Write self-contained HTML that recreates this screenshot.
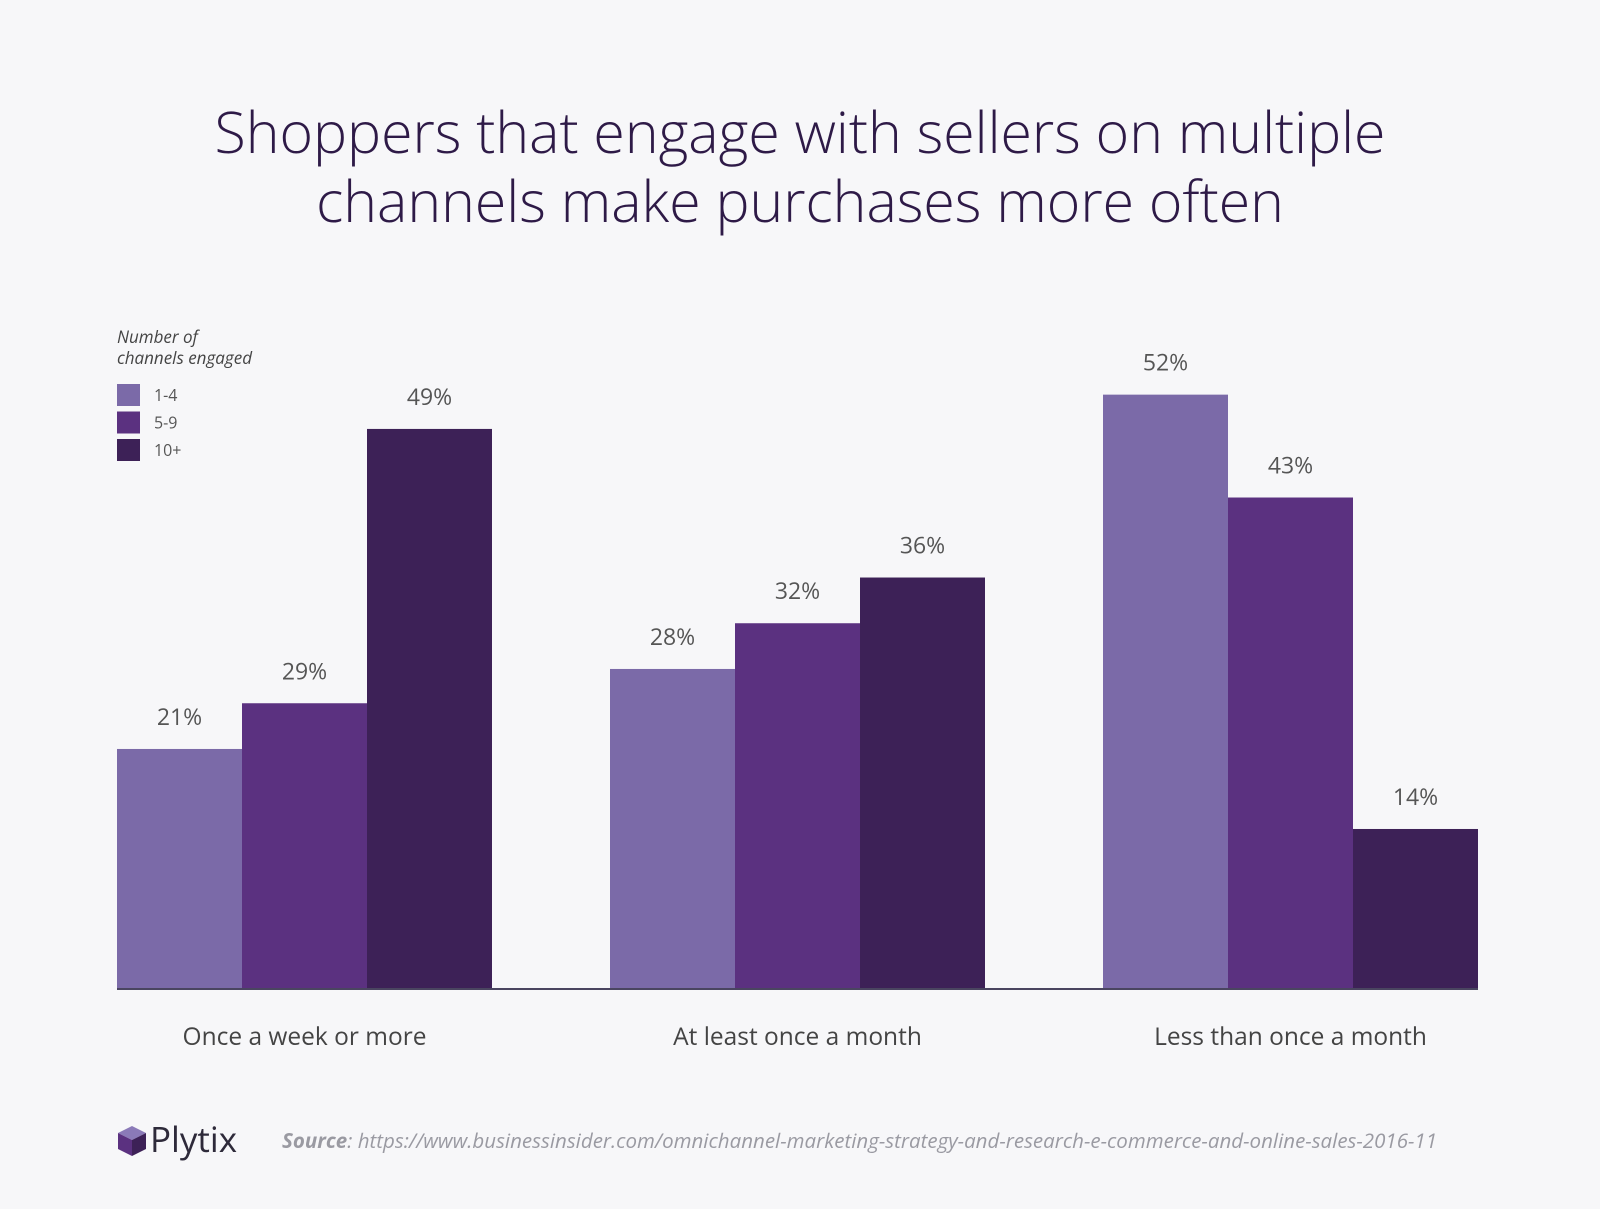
<!DOCTYPE html>
<html><head><meta charset="utf-8"><style>
body{margin:0;background:#f7f7f9;}
svg{display:block;font-family:"Open Sans","Liberation Sans",sans-serif;}
</style></head><body>
<svg width="1600" height="1209" viewBox="0 0 1600 1209">
<rect width="1600" height="1209" fill="#f7f7f9"/>
<text x="800" y="153" text-anchor="middle" font-size="57.2" fill="#2e1a47" font-weight="300">Shoppers that engage with sellers on multiple</text>
<text x="800" y="222" text-anchor="middle" font-size="57.2" fill="#2e1a47" font-weight="300">channels make purchases more often</text>
<g id="legend">
<text x="117" y="343" font-size="17" font-style="italic" fill="#444">Number of</text>
<text x="117" y="364" font-size="17" font-style="italic" fill="#444">channels engaged</text>
</g>
<g id="bars"></g>
<line x1="117" y1="989" x2="1478" y2="989" stroke="#4a4560" stroke-width="2"/>
<g id="cats"></g>
<g>
<polygon points="132,1126 146,1133 132,1140 118,1133" fill="#8b7ab8"/>
<polygon points="118,1133 132,1140 132,1156 118,1149" fill="#5b3180"/>
<polygon points="132,1140 146,1133 146,1149 132,1156" fill="#3d2157"/>
<text x="150" y="1152" font-size="35" fill="#2e2a3a">Plytix</text>
</g>
<text x="282" y="1148" font-size="20.5" font-style="italic" fill="#9a9aa2" textLength="1155"><tspan font-weight="bold">Source</tspan>: https://www.businessinsider.com/omnichannel-marketing-strategy-and-research-e-commerce-and-online-sales-2016-11</text>
</svg>
<script>
const categories = ["Once a week or more","At least once a month","Less than once a month"];
const seriesNames = ["1-4","5-9","10+"];
const s14 = [21,28,52];
const s59 = [25,32,43];
const s10 = [49,36,14];
const labels14 = ["21%","28%","52%"];
const labels59 = ["29%","32%","43%"];
const labels10 = ["49%","36%","14%"];
const colors = ["#7b6aa8","#5b3180","#3d2157"];
const NS="http://www.w3.org/2000/svg";
const baseY=989, pxPer=11.43, groupStarts=[117,610,1103], barW=125;
function y(v){return baseY-v*pxPer;}
function mk(t,a){const e=document.createElementNS(NS,t);for(const k in a)e.setAttribute(k,a[k]);return e;}
const bars=document.getElementById('bars'), cats=document.getElementById('cats'), legend=document.getElementById('legend');
const series=[s14,s59,s10];
const labelSets=[labels14,labels59,labels10];
series.forEach((s,si)=>{
  s.forEach((v,ci)=>{
    const x=groupStarts[ci]+si*barW;
    const r=mk('rect',{x:x,y:y(v),width:barW,height:baseY-y(v),fill:colors[si]});
    
    
    bars.appendChild(r);
    const t=mk('text',{x:x+barW/2,y:y(v)-24,'text-anchor':'middle','font-size':'23',fill:'#555'});
    t.textContent=labelSets[si][ci];
    
    
    bars.appendChild(t);
  });
  const sq=mk('rect',{x:117,y:384+si*27.5,width:23,height:22,fill:colors[si]});
  
  
  legend.appendChild(sq);
  const lt=mk('text',{x:154,y:401+si*27.5,'font-size':'16',fill:'#555'});
  lt.textContent=seriesNames[si];
  
  
  legend.appendChild(lt);
});
categories.forEach((c,ci)=>{
  const t=mk('text',{x:groupStarts[ci]+barW*1.5,y:1045,'text-anchor':'middle','font-size':'24.5',fill:'#444'});
  t.textContent=c;
  
  
  cats.appendChild(t);
});
</script>
</body></html>
